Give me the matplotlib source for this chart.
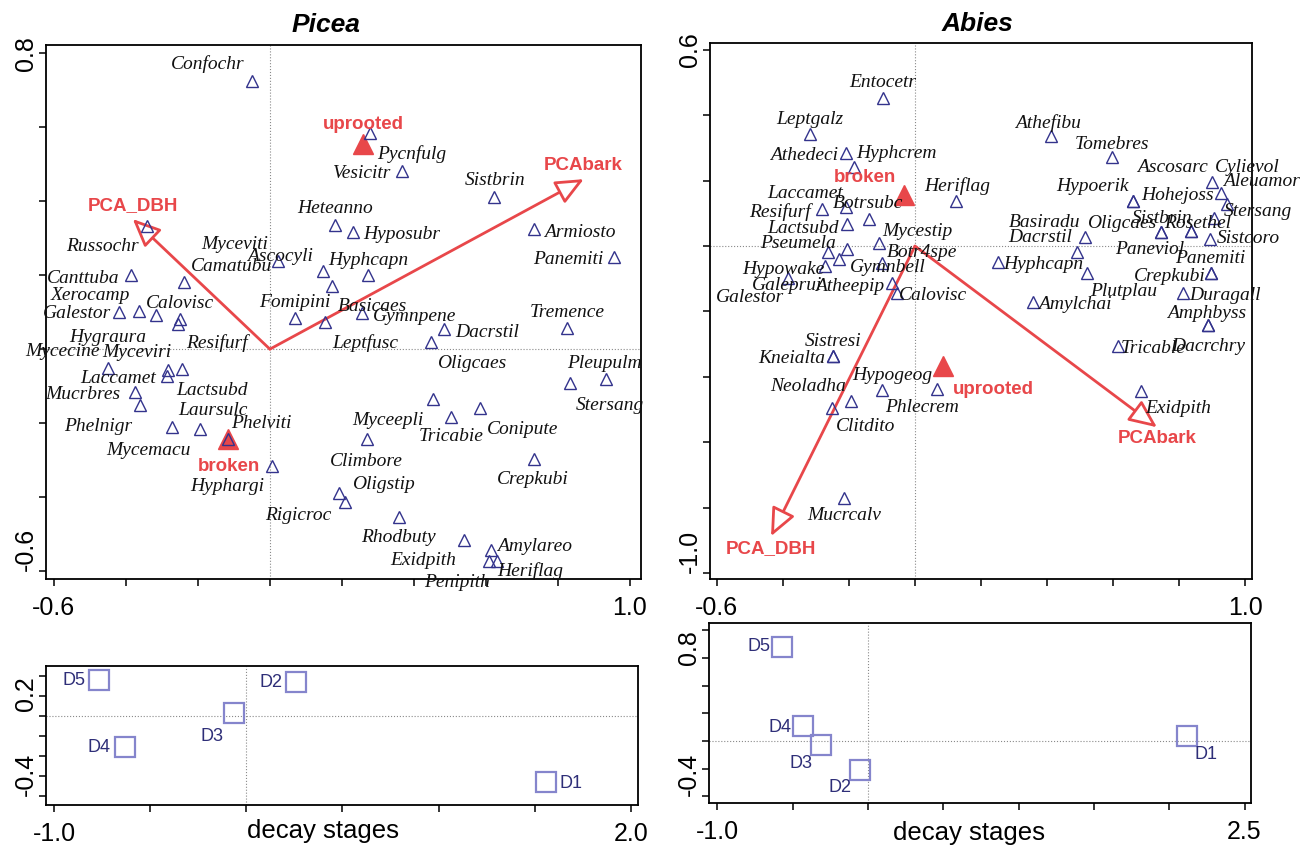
import matplotlib.pyplot as plt

plt.rcParams["font.family"] = ["Liberation Sans", "DejaVu Sans"]
plt.rcParams["axes.unicode_minus"] = False

RED = "#e8474a"
NAVY = "#33338c"
LILAC = "#8585cc"
GRID = "#8a8a8a"

# ---- Picea: species scores ----
picea_species = ["Confochr", "Pycnfulg", "Vesicitr", "Sistbrin", "Russochr", "Heteanno",
                 "Hyposubr", "Armiosto", "Panemiti", "Ascocyli", "Myceviti", "Canttuba",
                 "Camatubu", "Hyphcapn", "Basicaes", "Galestor", "Xerocamp", "Hygraura",
                 "Calovisc", "Resifurf", "Fomipini", "Leptfusc", "Gymnpene", "Dacrstil",
                 "Oligcaes", "Tremence", "Mycecine", "Myceviri", "Lactsubd", "Laccamet",
                 "Mucrbres", "Phelnigr", "Mycemacu", "Laursulc", "Phelviti", "Hyphargi",
                 "Oligstip", "Rigicroc", "Stersang", "Pleupulm", "Myceepli", "Tricabie",
                 "Conipute", "Climbore", "Crepkubi", "Rhodbuty", "Exidpith", "Amylareo",
                 "Penipith", "Heriflag"]
picea_x = [-0.050, 0.278, 0.367, 0.622, -0.342, 0.181, 0.231, 0.733, 0.956, 0.022,
           0.147, -0.386, -0.239, 0.272, 0.172, -0.419, -0.364, -0.317, -0.250, -0.256,
           0.069, 0.153, 0.256, 0.483, 0.447, 0.825, -0.450, -0.283, -0.244, -0.286,
           -0.375, -0.361, -0.272, -0.194, -0.117, 0.006, 0.192, 0.208, 0.833, 0.933,
           0.453, 0.503, 0.583, 0.269, 0.733, 0.358, 0.539, 0.614, 0.608, 0.631]
picea_y = [0.725, 0.585, 0.482, 0.411, 0.333, 0.336, 0.317, 0.325, 0.249, 0.238,
           0.211, 0.200, 0.181, 0.200, 0.171, 0.100, 0.103, 0.092, 0.081, 0.068,
           0.084, 0.073, 0.097, 0.054, 0.019, 0.057, -0.051, -0.057, -0.054, -0.073,
           -0.116, -0.152, -0.211, -0.217, -0.244, -0.317, -0.390, -0.414, -0.092, -0.081,
           -0.135, -0.184, -0.160, -0.244, -0.298, -0.455, -0.517, -0.544, -0.574, -0.574]
# where each name sits relative to its point (pixels)
picea_label_off = [(-44, 17), (42, -21), (-40, -2), (1, 17), (-44, -20), (0, 16),
                   (49, -3), (46, -3), (-46, -2), (2, 5), (-88, 27), (-48, -3),
                   (48, 16), (0, 15), (41, -21), (-42, -1), (-49, 16), (-48, -22),
                   (0, 16), (39, -19), (0, 16), (40, -21), (53, -3), (43, -3),
                   (41, -21), (0, 16), (-45, 16), (-31, 18), (30, -21), (-49, -2),
                   (-52, -2), (-42, -21), (-24, -23), (13, 19), (34, 16), (-45, -20),
                   (44, 9), (-47, -13), (40, -22), (-1, 16), (-45, -21), (0, -19),
                   (43, -21), (0, -22), (-1, -20), (0, -20), (-41, -20), (44, 4),
                   (-32, -21), (33, -10)]

picea_centroids = ["uprooted", "broken"]
picea_centroid_x = [0.258, -0.117]
picea_centroid_y = [0.555, -0.244]
picea_centroid_off = [(1, 20), (1, -27)]

picea_vectors = ["PCA_DBH", "PCAbark"]
picea_vector_x = [-0.381, 0.872]
picea_vector_y = [0.352, 0.460]
picea_vector_off = [(0, 13), (-1, 14)]

# ---- Abies: species scores ----
abies_species = ["Entocetr", "Leptgalz", "Athedeci", "Hyphcrem", "Laccamet", "Resifurf",
                 "Botrsubc", "Lactsubd", "Mycestip", "Pseumela", "Gymnbell", "Botr4spe",
                 "Hypowake", "Galestor", "Galeprui", "Atheepip", "Calovisc", "Sistresi",
                 "Kneialta", "Hypogeog", "Phlecrem", "Neoladha", "Clitdito", "Mucrcalv",
                 "Athefibu", "Tomebres", "Hypoerik", "Hohejoss", "Ascosarc", "Cylievol",
                 "Aleuamor", "Stersang", "Sistbrin", "Oligcaes", "Rosethel", "Paneviol",
                 "Sistcoro", "Panemiti", "Crepkubi", "Duragall", "Plutplau", "Amphbyss",
                 "Dacrchry", "Tricable", "Exidpith", "Basiradu", "Dacrstil", "Hyphcapn",
                 "Amylchai", "Heriflag"]
abies_x = [-0.097, -0.318, -0.209, -0.185, -0.209, -0.282, -0.139, -0.206, -0.109, -0.264,
           -0.206, -0.100, -0.273, -0.230, -0.385, -0.070, -0.055, -0.248, -0.248, -0.100,
           0.067, -0.252, -0.194, -0.215, 0.412, 0.597, 0.661, 0.661, 0.900, 0.927,
           0.945, 0.906, 0.745, 0.745, 0.836, 0.836, 0.894, 0.897, 0.897, 0.812,
           0.521, 0.888, 0.888, 0.615, 0.685, 0.515, 0.491, 0.252, 0.358, 0.124]
abies_y = [0.453, 0.343, 0.284, 0.242, 0.119, 0.113, 0.083, 0.067, 0.009, -0.018,
           -0.009, -0.052, -0.061, -0.040, -0.098, -0.113, -0.144, -0.336, -0.336, -0.440,
           -0.437, -0.495, -0.474, -0.771, 0.336, 0.272, 0.138, 0.138, 0.196, 0.162,
           0.128, 0.086, 0.043, 0.043, 0.046, 0.046, 0.021, -0.083, -0.083, -0.144,
           -0.083, -0.242, -0.242, -0.306, -0.443, 0.028, -0.018, -0.049, -0.171, 0.138]
abies_label_off = [(0, 15), (0, 14), (-42, -2), (43, 13), (-41, 14), (-42, -3),
                   (-1, 15), (-44, -4), (38, 12), (-30, 8), (41, -18), (40, 11),
                   (-42, -3), (-89, -38), (-1, -7), (-42, -3), (36, -2), (0, 14),
                   (-41, -3), (10, 14), (-15, -19), (-24, 21), (15, -25), (0, -17),
                   (-3, 13), (0, 13), (-41, 14), (44, 5), (-40, 14), (26, 26),
                   (35, 23), (44, 6), (1, 14), (-39, 9), (7, 8), (-41, -18),
                   (38, 1), (-1, 15), (-41, -3), (42, -2), (37, -18), (-1, 12),
                   (0, -21), (35, -2), (37, -18), (-40, 14), (-37, 14), (45, -2),
                   (42, -2), (1, 15)]

abies_centroids = ["broken", "uprooted"]
abies_centroid_x = [-0.033, 0.085]
abies_centroid_y = [0.156, -0.367]
abies_centroid_off = [(-39, 18), (50, -23)]

abies_vectors = ["PCA_DBH", "PCAbark"]
abies_vector_x = [-0.436, 0.733]
abies_vector_y = [-0.887, -0.554]
abies_vector_off = [(0, -12), (0, -11)]

# ---- decay stage scores ----
stages = ["D1", "D2", "D3", "D4", "D5"]
picea_stage_x = [1.557, 0.258, -0.065, -0.630, -0.768]
picea_stage_y = [-0.330, 0.170, 0.012, -0.155, 0.182]
picea_stage_off = [(25, -2), (-25, -1), (-22, -23), (-26, -1), (-25, -1)]
abies_stage_x = [2.119, -0.056, -0.312, -0.431, -0.570]
abies_stage_y = [0.033, -0.208, -0.032, 0.106, 0.679]
abies_stage_off = [(19, -18), (-20, -18), (-20, -18), (-23, -1), (-23, 0)]


def style_axes(ax, xticks, yticks, top_va="center"):
    ax.axhline(0, color=GRID, lw=0.8, ls=":", zorder=1)
    ax.axvline(0, color=GRID, lw=0.8, ls=":", zorder=1)
    ax.set_xticks(xticks)
    ax.set_yticks(yticks)
    ax.set_xticklabels([f"{v:.1f}" if i in (0, len(xticks) - 1) else ""
                        for i, v in enumerate(xticks)])
    ax.set_yticklabels([f"{v:.1f}" if i in (0, len(yticks) - 1) else ""
                        for i, v in enumerate(yticks)])
    ax.tick_params(direction="out", length=5, width=1.1, labelsize=18)
    ax.tick_params(axis="x", pad=7)
    ax.tick_params(axis="y", labelrotation=90, pad=1)
    labels = ax.get_yticklabels()
    labels[0].set_va("bottom")
    labels[-1].set_va(top_va)
    for s in ax.spines.values():
        s.set_linewidth(1.3)


def draw_ordination(ax, names, xs, ys, offs, cen, cx, cy, coff, vec, vx, vy, voff):
    for name, x, y, off in zip(vec, vx, vy, voff):
        ax.annotate("", xy=(x, y), xytext=(0, 0), zorder=2,
                    arrowprops=dict(arrowstyle="-|>,head_length=0.95,head_width=0.42",
                                    mutation_scale=18, lw=2.0, edgecolor=RED,
                                    facecolor="white", shrinkA=0, shrinkB=0))
        ax.annotate(name, (x, y), xytext=off, textcoords="offset pixels",
                    ha="center", va="center", color=RED, fontsize=13.5,
                    fontweight="bold", zorder=6)
    ax.plot(cx, cy, ls="none", marker="^", ms=15, color=RED, zorder=3)
    for name, x, y, off in zip(cen, cx, cy, coff):
        ax.annotate(name, (x, y), xytext=off, textcoords="offset pixels",
                    ha="center", va="center", color=RED, fontsize=13.5,
                    fontweight="bold", zorder=6)
    ax.plot(xs, ys, ls="none", marker="^", ms=8, mfc="none", mec=NAVY, mew=1.0, zorder=4)
    for name, x, y, off in zip(names, xs, ys, offs):
        ax.annotate(name, (x, y), xytext=off, textcoords="offset pixels",
                    ha="center", va="center", fontsize=14, color="#111111",
                    family="Liberation Serif", style="italic", zorder=5)


def draw_stages(ax, xs, ys, offs, label_x):
    ax.plot(xs, ys, ls="none", marker="s", ms=14.5, mfc="none", mec=LILAC, mew=1.6, zorder=3)
    for name, x, y, off in zip(stages, xs, ys, offs):
        ax.annotate(name, (x, y), xytext=off, textcoords="offset pixels",
                    ha="center", va="center", fontsize=13, color="#2e2e78", zorder=4)
    ax.set_xlabel("decay stages", fontsize=18.5)
    ax.xaxis.set_label_coords(label_x, -0.1)


fig = plt.figure(figsize=(13.09, 8.5), dpi=100)

ax_p = fig.add_axes([0.03514, 0.31882, 0.45455, 0.62824])
ax_p.set_xlim(-0.622, 1.031)
ax_p.set_ylim(-0.622, 0.823)
draw_ordination(ax_p, picea_species, picea_x, picea_y, picea_label_off,
                picea_centroids, picea_centroid_x, picea_centroid_y, picea_centroid_off,
                picea_vectors, picea_vector_x, picea_vector_y, picea_vector_off)
style_axes(ax_p, [-0.6, -0.4, -0.2, 0.0, 0.2, 0.4, 0.6, 0.8, 1.0],
           [-0.6, -0.4, -0.2, 0.0, 0.2, 0.4, 0.6, 0.8])
ax_p.set_title("Picea", fontsize=19, fontweight="bold", style="italic", x=0.47, pad=9)

ax_a = fig.add_axes([0.54240, 0.31882, 0.41406, 0.63059])
ax_a.set_xlim(-0.621, 1.021)
ax_a.set_ylim(-1.018, 0.621)
draw_ordination(ax_a, abies_species, abies_x, abies_y, abies_label_off,
                abies_centroids, abies_centroid_x, abies_centroid_y, abies_centroid_off,
                abies_vectors, abies_vector_x, abies_vector_y, abies_vector_off)
style_axes(ax_a, [-0.6, -0.4, -0.2, 0.0, 0.2, 0.4, 0.6, 0.8, 1.0],
           [-1.0, -0.8, -0.6, -0.4, -0.2, 0.0, 0.2, 0.4, 0.6])
ax_a.set_title("Abies", fontsize=19, fontweight="bold", style="italic", x=0.493, pad=9)

ax_pd = fig.add_axes([0.03514, 0.05294, 0.45225, 0.16353])
ax_pd.set_xlim(-1.042, 2.037)
ax_pd.set_ylim(-0.447, 0.25)
draw_stages(ax_pd, picea_stage_x, picea_stage_y, picea_stage_off, 0.468)
style_axes(ax_pd, [-1.0, -0.5, 0.0, 0.5, 1.0, 1.5, 2.0],
           [-0.4, -0.3, -0.2, -0.1, 0.0, 0.1, 0.2], top_va="top")

ax_ad = fig.add_axes([0.54163, 0.05529, 0.41406, 0.21176])
ax_ad.set_xlim(-1.056, 2.543)
ax_ad.set_ylim(-0.448, 0.852)
draw_stages(ax_ad, abies_stage_x, abies_stage_y, abies_stage_off, 0.48)
style_axes(ax_ad, [-1.0, -0.5, 0.0, 0.5, 1.0, 1.5, 2.0, 2.5],
           [-0.4, -0.2, 0.0, 0.2, 0.4, 0.6, 0.8], top_va="top")

fig.savefig("out.png", dpi=100)
